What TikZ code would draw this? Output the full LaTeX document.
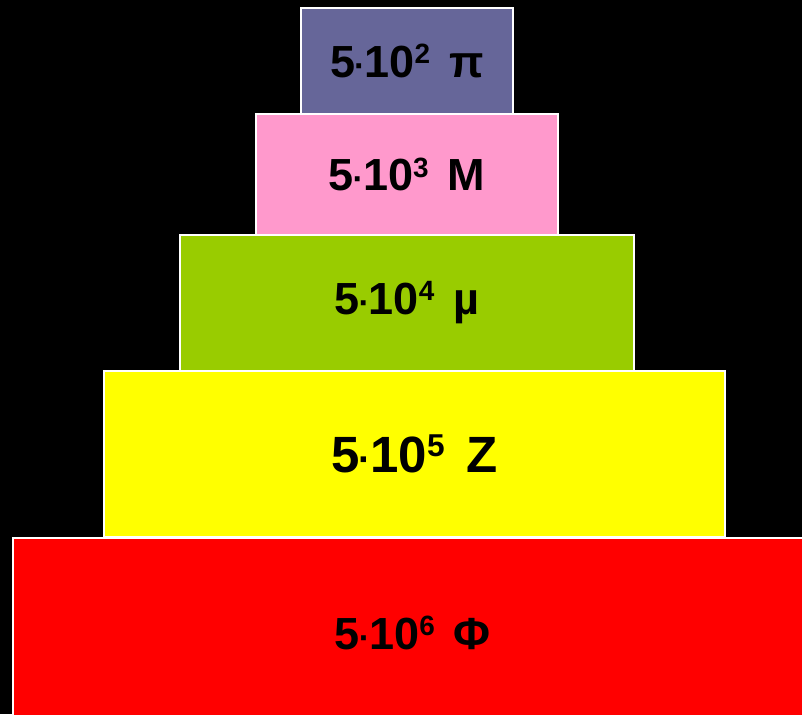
\documentclass[tikz,border=0pt]{standalone}
\usepackage{fontspec}
\usepackage{graphicx}
\setmainfont{Liberation Sans}
\usetikzlibrary{positioning}
\definecolor{Slab}{HTML}{666699}
\definecolor{Rose}{HTML}{FF99CC}
\definecolor{Lime}{HTML}{99CC00}
\definecolor{Sun}{HTML}{FFFF00}
\definecolor{Base}{HTML}{FF0000}
% 5 . 10^n, then the letter
\newcommand{\lvl}[2]{5\kern-.02em\scalebox{.75}{·}\kern-.02em10\raisebox{.3em}{\scalebox{.62}{#1}}\hspace{.42em}#2}
\tikzset{
  tier/.style={draw=white,line width=1.6pt,anchor=north west,inner sep=0pt,
    font=\fontsize{45}{48}\selectfont\bfseries,text=black},
  big/.style={font=\fontsize{51}{54}\selectfont\bfseries}
}

\begin{document}
\begin{tikzpicture}[x=1pt,y=-1pt]
  \useasboundingbox (0,0) rectangle (802,714);
  \fill[black] (0,0) rectangle (802,714);
  \clip (0,0) rectangle (802,714);

  \node[tier,fill=Base,minimum width=800pt,minimum height=190pt] (phi) at (12,537) {\lvl{6}{Φ}};
  \node[tier,big,fill=Sun,minimum width=621pt,minimum height=166pt] (z) at (103,370) {\lvl{5}{Z}};
  \node[tier,fill=Lime,minimum width=454pt,minimum height=136pt] (mu) at (179,234) {\lvl{4}{µ}};
  \node[tier,fill=Rose,minimum width=302pt,minimum height=121pt] (m) at (255,113) {\lvl{3}{M}};
  \node[tier,fill=Slab,minimum width=212pt,minimum height=106pt] (pi) at (300,7) {\lvl{2}{π}};
\end{tikzpicture}
\end{document}
